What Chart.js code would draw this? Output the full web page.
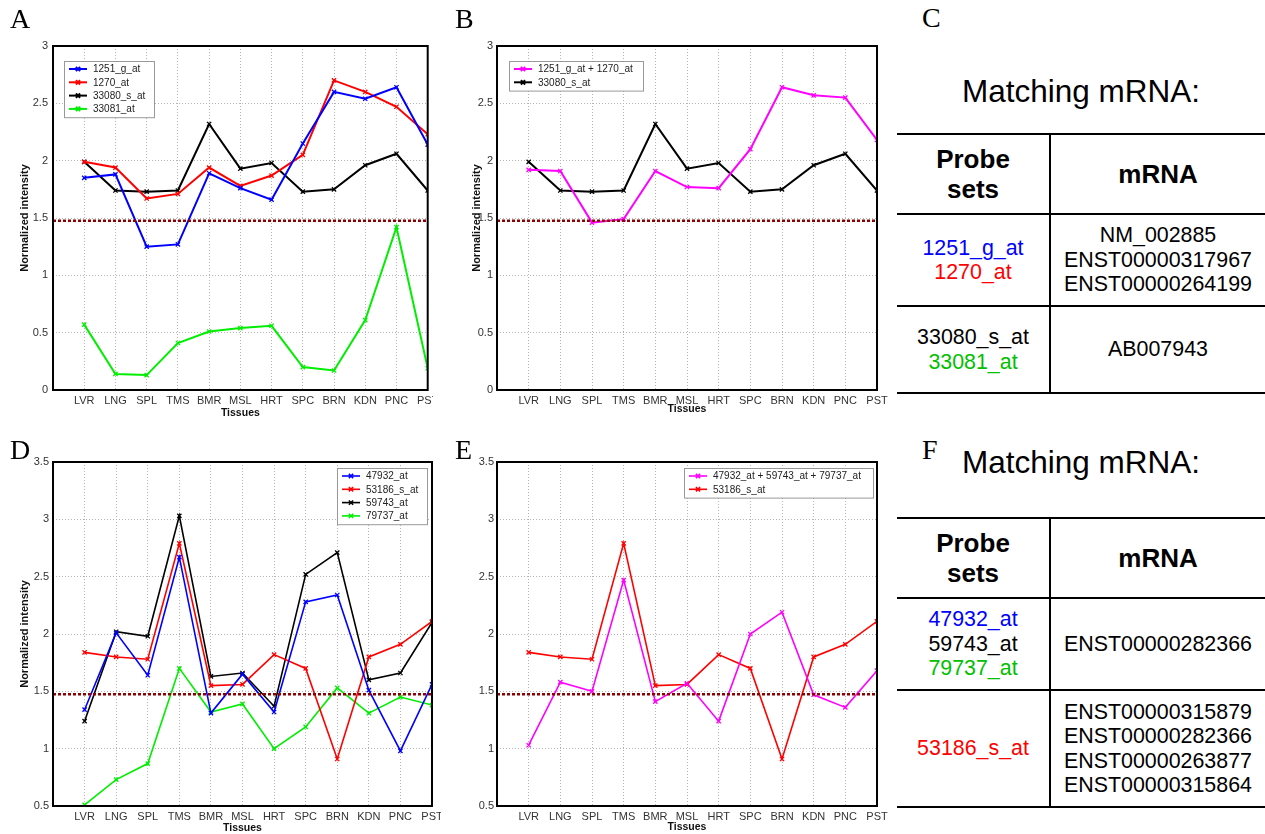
<!DOCTYPE html>
<html>
<head>
<meta charset="utf-8">
<script src="https://cdn.jsdelivr.net/npm/chart.js@4.4.0/dist/chart.umd.min.js"></script>
<style>
body{margin:0;background:#fff;width:1265px;height:834px;position:relative;overflow:hidden;font-family:"Liberation Sans",Arial,sans-serif}
canvas{position:absolute}
.lt{position:absolute;font-family:"Liberation Serif","Times New Roman",serif;font-size:28px;line-height:28px;color:#000}
.ttl{position:absolute;left:897px;width:368px;text-align:center;font-size:31.5px;line-height:34px}
table{position:absolute;left:897px;width:368px;border-collapse:collapse;font-size:21.4px;line-height:24.5px;text-align:center}
th{font-size:26px;line-height:30px;font-weight:bold}
td,th{border-top:2px solid #000;border-bottom:2px solid #000;padding:0}
td:first-child,th:first-child{border-right:2px solid #000;width:152px}
</style>
</head>
<body>
<canvas id="chA" width="433" height="420" style="left:0;top:0"></canvas>
<canvas id="chB" width="450" height="420" style="left:440px;top:0"></canvas>
<canvas id="chD" width="441" height="414" style="left:0;top:420px"></canvas>
<canvas id="chE" width="450" height="414" style="left:440px;top:420px"></canvas>

<div class="lt" style="left:10px;top:5px">A</div>
<div class="lt" style="left:455px;top:5px">B</div>
<div class="lt" style="left:922px;top:4px">C</div>
<div class="lt" style="left:10px;top:436px">D</div>
<div class="lt" style="left:455px;top:436px">E</div>
<div class="lt" style="left:922px;top:436px">F</div>

<div class="ttl" style="top:74px">Matching mRNA:</div>
<table style="top:133px">
<tr style="height:80px"><th>Probe<br>sets</th><th>mRNA</th></tr>
<tr style="height:92px"><td><span style="color:#0000ff">1251_g_at</span><br><span style="color:#ff0000">1270_at</span></td><td>NM_002885<br>ENST00000317967<br>ENST00000264199</td></tr>
<tr style="height:87px"><td><span style="color:#000">33080_s_at</span><br><span style="color:#00c000">33081_at</span></td><td>AB007943</td></tr>
</table>

<div class="ttl" style="top:445px">Matching mRNA:</div>
<table style="top:517px">
<tr style="height:80px"><th>Probe<br>sets</th><th>mRNA</th></tr>
<tr style="height:92px"><td><span style="color:#0000ff">47932_at</span><br><span style="color:#000">59743_at</span><br><span style="color:#00c000">79737_at</span></td><td>ENST00000282366</td></tr>
<tr style="height:117px"><td><span style="color:#ff0000">53186_s_at</span></td><td>ENST00000315879<br>ENST00000282366<br>ENST00000263877<br>ENST00000315864</td></tr>
</table>

<script>
const tissues = ['LVR','LNG','SPL','TMS','BMR','MSL','HRT','SPC','BRN','KDN','PNC','PST'];
const threshold = 1.475;

// panel A / B
const a1251 = [1.85,1.88,1.25,1.27,1.89,1.76,1.66,2.15,2.60,2.54,2.64,2.14];
const a1270 = [1.99,1.94,1.67,1.71,1.94,1.78,1.87,2.05,2.70,2.60,2.47,2.23];
const a33080 = [1.99,1.74,1.73,1.74,2.32,1.93,1.98,1.73,1.75,1.96,2.06,1.74];
const a33081 = [0.57,0.14,0.13,0.41,0.51,0.54,0.56,0.20,0.17,0.61,1.42,0.19];
const bSum = [1.92,1.91,1.46,1.49,1.91,1.77,1.76,2.10,2.64,2.57,2.55,2.18];

// panel D / E
const d47932 = [1.34,2.01,1.64,2.67,1.31,1.65,1.32,2.28,2.34,1.51,0.98,1.56];
const d53186 = [1.84,1.80,1.78,2.79,1.55,1.56,1.82,1.70,0.91,1.80,1.91,2.11];
const d59743 = [1.24,2.02,1.98,3.03,1.63,1.66,1.37,2.52,2.71,1.60,1.66,2.10];
const d79737 = [0.51,0.73,0.87,1.70,1.32,1.39,1.00,1.19,1.53,1.31,1.45,1.38];
const eSum = [1.03,1.58,1.50,2.47,1.41,1.57,1.24,2.00,2.19,1.47,1.36,1.68];

const FONT = '"Liberation Sans", Arial, sans-serif';

function pts(vals){ return vals.map((v,i)=>({x:i+1,y:v})); }

function series(label, vals, color, lw){
  return {label:label, data:pts(vals), borderColor:color, backgroundColor:color,
    borderWidth:lw, pointStyle:'crossRot', pointRadius:3, pointBorderWidth:1.3, tension:0};
}
function cutoff(){
  return {label:'', data:[{x:0,y:threshold},{x:12,y:threshold}], borderColor:'#8b0000',
    borderWidth:2.5, borderDash:[3,2], pointRadius:0, order:-1};
}

const boxPlugin = {
  id:'boxLegend',
  afterDraw(chart){
    const ctx = chart.ctx, a = chart.chartArea;
    ctx.save();
    ctx.strokeStyle = '#000'; ctx.lineWidth = 2;
    ctx.strokeRect(a.left, a.top, a.right-a.left, a.bottom-a.top);
    const o = chart.options.plugins.boxLegend;
    const items = chart.data.datasets.filter(d=>d.label);
    const h = items.length*13.3 + 3;
    const x = o.side==='left' ? a.left+o.dx : a.right-o.dx-o.w;
    const y = a.top + o.dy;
    ctx.fillStyle = '#fff'; ctx.fillRect(x, y, o.w, h);
    ctx.strokeStyle = '#999'; ctx.lineWidth = 1; ctx.strokeRect(x+0.5, y+0.5, o.w, h);
    ctx.font = '10px ' + FONT; ctx.textBaseline = 'middle';
    items.forEach((d,i)=>{
      const yy = y + 8 + i*13.3;
      ctx.strokeStyle = d.borderColor; ctx.lineWidth = d.borderWidth;
      ctx.beginPath(); ctx.moveTo(x+5, yy); ctx.lineTo(x+23, yy); ctx.stroke();
      ctx.fillStyle = d.borderColor;
      Chart.helpers.drawPoint(ctx, {pointStyle:'crossRot', radius:3, borderWidth:1.3, rotation:0}, x+14, yy);
      ctx.fillStyle = '#222';
      ctx.fillText(d.label, x+29, yy+0.5);
    });
    ctx.restore();
  }
};

function makeChart(id, datasets, c){
  return new Chart(document.getElementById(id), {
    type:'line',
    data:{datasets:datasets},
    plugins:[boxPlugin],
    options:{
      responsive:false, animation:false, devicePixelRatio:1,
      layout:{padding:{left:0, top:c.top, right:c.right, bottom:0}},
      plugins:{legend:{display:false}, tooltip:{enabled:false}, boxLegend:c.legend},
      scales:{
        x:{type:'linear', min:0, max:12,
          ticks:{stepSize:1, autoSkip:false, maxRotation:0, padding:4, color:'#333',
            font:{size:11, family:FONT}, callback:v=>tissues[v-1]||''},
          grid:{color:'#b4b4b4', drawTicks:false},
          border:{display:false, dash:[1,2]},
          title:{display:true, text:'Tissues', color:'#111', font:{size:10.5, weight:'bold', family:FONT},
            padding:{top:0, bottom:c.xtPad}},
          afterFit:s=>{ s.height = c.xh; s.paddingLeft = 0; s.paddingRight = 0; }
        },
        y:{min:c.ymin, max:c.ymax,
          ticks:{stepSize:0.5, padding:c.ytp, color:'#333', font:{size:11, family:FONT},
            callback:v=>String(+v.toFixed(1))},
          grid:{color:'#b4b4b4', drawTicks:false},
          border:{display:false, dash:[1,2]},
          title:{display:c.ytitle, text:'Normalized intensity', color:'#111',
            font:{size:11, weight:'bold', family:FONT}, padding:{top:c.yTitlePad, bottom:0}},
          afterFit:s=>{ s.width = c.yw; s.paddingTop = 0; s.paddingBottom = 0; }
        }
      }
    }
  });
}

makeChart('chA', [
  series('1251_g_at', a1251, '#0000ff', 2),
  series('1270_at', a1270, '#ff0000', 2),
  series('33080_s_at', a33080, '#000000', 2),
  series('33081_at', a33081, '#00ee00', 2),
  cutoff()
], {top:46, right:1, xh:30, xtPad:1, yw:53, ytp:5, ytitle:true, yTitlePad:18.5, ymin:0, ymax:3,
    legend:{side:'left', dx:11, dy:15, w:90}});

makeChart('chB', [
  series('1251_g_at + 1270_at', bSum, '#ff00ff', 2),
  series('33080_s_at', a33080, '#000000', 2),
  cutoff()
], {top:46, right:13, xh:30, xtPad:5, yw:57, ytp:4, ytitle:true, yTitlePad:30.5, ymin:0, ymax:3,
    legend:{side:'left', dx:12, dy:15, w:134}});

makeChart('chD', [
  series('47932_at', d47932, '#0000ff', 1.6),
  series('53186_s_at', d53186, '#ff0000', 1.6),
  series('59743_at', d59743, '#000000', 1.6),
  series('79737_at', d79737, '#00ee00', 1.6),
  cutoff()
], {top:42, right:9, xh:28, xtPad:0, yw:53, ytp:4, ytitle:true, yTitlePad:18.5, ymin:0.5, ymax:3.5,
    legend:{side:'right', dx:5, dy:6, w:90}});

makeChart('chE', [
  series('47932_at + 59743_at + 79737_at', eSum, '#ff00ff', 1.6),
  series('53186_s_at', d53186, '#ff0000', 1.6),
  cutoff()
], {top:42, right:13, xh:28, xtPad:0.5, yw:57, ytp:3, ytitle:false, yTitlePad:0, ymin:0.5, ymax:3.5,
    legend:{side:'right', dx:4, dy:6, w:189}});
</script>
</body>
</html>
